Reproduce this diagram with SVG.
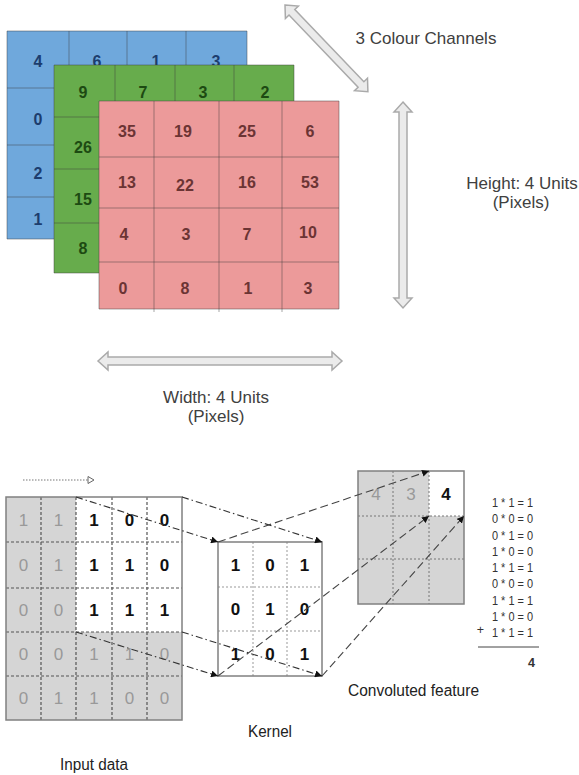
<svg xmlns="http://www.w3.org/2000/svg" width="579" height="775" viewBox="0 0 579 775">
<defs>
<style>
text{font-family:"Liberation Sans",Arial,sans-serif}
.bl{fill:#6fa8dc}
.gr{fill:#67ac4c}
.pk{fill:#ec9a9a}
.gl{stroke:rgba(60,60,60,0.45);stroke-width:1;fill:none}
.tb{font-size:16px;fill:#1c3d6e;text-anchor:middle;font-weight:600}
.tg{font-size:16px;fill:#1d4a12;text-anchor:middle;font-weight:600}
.tp{font-size:16px;fill:#6b3434;text-anchor:middle;font-weight:600}
.lab{font-size:17px;fill:#404040;text-anchor:middle}
.dbl{fill:#ebebeb;stroke:#aaaaaa;stroke-width:1.5}
.gray{fill:#d5d5d5}
.outer{fill:none;stroke:#808080;stroke-width:1.5}
.idash{stroke:#555;stroke-width:1.2;stroke-dasharray:3 2;fill:none}
.idot{stroke:#999;stroke-width:1;stroke-dasharray:2 2;fill:none}
.nb{font-size:17px;font-weight:bold;fill:#111;text-anchor:middle}
.ng{font-size:17px;fill:#999;text-anchor:middle}
.cap{font-size:16px;fill:#222}
.eq{font-size:12.5px;fill:#333;text-anchor:end}
.dd{stroke:#333;stroke-width:1.1;stroke-dasharray:7 3 1.5 3;fill:none}
.da{stroke:#444;stroke-width:1.1;stroke-dasharray:8 4;fill:none}
</style>
<marker id="ah" viewBox="0 0 10 10" refX="10" refY="5" markerWidth="7" markerHeight="7" orient="auto" markerUnits="userSpaceOnUse">
<path d="M0,0 L10,5 L0,10 z" fill="#111"/>
</marker>
</defs>
<rect width="579" height="775" fill="#fff"/>

<g id="blue-channel">
<rect class="bl" x="7" y="31" width="240" height="208"/>
<path class="gl" d="M7,31H247V239H7Z M69,31V239 M127,31V239 M186,31V239 M7,88H247 M7,145H247 M7,197H247"/>
<text class="tb" x="38" y="67">4</text><text class="tb" x="97" y="67">6</text><text class="tb" x="156" y="67">1</text><text class="tb" x="216" y="67">3</text>
<text class="tb" x="38" y="125">0</text>
<text class="tb" x="38" y="179">2</text>
<text class="tb" x="38" y="225">1</text>
</g>

<g id="green-channel">
<rect class="gr" x="54" y="65" width="240" height="208"/>
<path class="gl" d="M54,65H294V273H54Z M115,65V273 M175,65V273 M234,65V273 M54,117H294 M54,169H294 M54,223H294"/>
<text class="tg" x="83" y="98">9</text><text class="tg" x="143" y="98">7</text><text class="tg" x="203" y="98">3</text><text class="tg" x="265" y="98">2</text>
<text class="tg" x="83" y="153">26</text>
<text class="tg" x="83" y="205">15</text>
<text class="tg" x="83" y="254">8</text>
</g>

<g id="red-channel">
<rect class="pk" x="99" y="101" width="240" height="208"/>
<path class="gl" d="M99,101H339V309H99Z M154,101V312 M219,101V312 M282,101V312 M99,157H339 M99,208H339 M99,262H339"/>
<text class="tp" x="127" y="137">35</text><text class="tp" x="183" y="137">19</text><text class="tp" x="247" y="137">25</text><text class="tp" x="310" y="137">6</text>
<text class="tp" x="127" y="188">13</text><text class="tp" x="185" y="191">22</text><text class="tp" x="247" y="188">16</text><text class="tp" x="310" y="188">53</text>
<text class="tp" x="124" y="240">4</text><text class="tp" x="186" y="240">3</text><text class="tp" x="247" y="240">7</text><text class="tp" x="308" y="238">10</text>
<text class="tp" x="123" y="294">0</text><text class="tp" x="185" y="294">8</text><text class="tp" x="248" y="294">1</text><text class="tp" x="308" y="294">3</text>
</g>

<g id="dimension-arrows">
<polygon class="dbl" transform="translate(285,5) rotate(46.3)" points="0,0 10,-9 10,-4 110,-4 110,-9 120,0 110,9 110,4 10,4 10,9"/>
<polygon class="dbl" points="403,102 412,112 407,112 407,298 412,298 403,308 394,298 399,298 399,112 394,112"/>
<polygon class="dbl" points="98,361 108,352 108,357 332,357 332,352 342,361 332,370 332,365 108,365 108,370"/>
</g>

<g id="dimension-labels">
<text class="lab" x="426" y="44">3 Colour Channels</text>
<text class="lab" x="522" y="189">Height: 4 Units</text>
<text class="lab" x="521" y="208">(Pixels)</text>
<text class="lab" x="216" y="403">Width: 4 Units</text>
<text class="lab" x="216" y="422">(Pixels)</text>
</g>

<g id="slide-arrow">
<line x1="23" y1="480" x2="88" y2="480" stroke="#777" stroke-width="1" stroke-dasharray="1.5 1.5"/>
<polygon points="88,476.5 94,480 88,483.5" fill="#fff" stroke="#666" stroke-width="1"/>
</g>

<g id="input-data">
<rect class="gray" x="6" y="497" width="176" height="223"/>
<rect x="76" y="497" width="106" height="135" fill="#fff"/>
<path class="idash" d="M41,497V720 M76,497V720 M112,497V720 M147,497V720 M6,542H182 M6,588H182 M6,632H182 M6,676H182"/>
<rect class="outer" x="6" y="497" width="176" height="223"/>
<text class="ng" x="23.5" y="526">1</text><text class="ng" x="58.5" y="526">1</text><text class="nb" x="94" y="526">1</text><text class="nb" x="129.5" y="526">0</text><text class="nb" x="164.5" y="526">0</text>
<text class="ng" x="23.5" y="571">0</text><text class="ng" x="58.5" y="571">1</text><text class="nb" x="94" y="571">1</text><text class="nb" x="129.5" y="571">1</text><text class="nb" x="164.5" y="571">0</text>
<text class="ng" x="23.5" y="616">0</text><text class="ng" x="58.5" y="616">0</text><text class="nb" x="94" y="616">1</text><text class="nb" x="129.5" y="616">1</text><text class="nb" x="164.5" y="616">1</text>
<text class="ng" x="23.5" y="660">0</text><text class="ng" x="58.5" y="660">0</text><text class="ng" x="94" y="660">1</text><text class="ng" x="129.5" y="660">1</text><text class="ng" x="164.5" y="660">0</text>
<text class="ng" x="23.5" y="704">0</text><text class="ng" x="58.5" y="704">1</text><text class="ng" x="94" y="704">1</text><text class="ng" x="129.5" y="704">0</text><text class="ng" x="164.5" y="704">0</text>
<text class="cap" x="60" y="770" textLength="68" lengthAdjust="spacingAndGlyphs">Input data</text>
</g>

<g id="kernel">
<rect x="218" y="542" width="104" height="134" fill="#fff"/>
<path class="idot" d="M253,542V676 M287,542V676 M218,587H322 M218,631H322"/>
<rect class="outer" x="218" y="542" width="104" height="134"/>
<text class="nb" x="235.5" y="571">1</text><text class="nb" x="270" y="571">0</text><text class="nb" x="304.5" y="571">1</text>
<text class="nb" x="235.5" y="615">0</text><text class="nb" x="270" y="615">1</text><text class="nb" x="304.5" y="615">0</text>
<text class="nb" x="235.5" y="660">1</text><text class="nb" x="270" y="660">0</text><text class="nb" x="304.5" y="660">1</text>
<text class="cap" x="248" y="737" textLength="44" lengthAdjust="spacingAndGlyphs">Kernel</text>
</g>

<g id="convoluted-feature">
<rect class="gray" x="358" y="471" width="106" height="133"/>
<rect x="429" y="471" width="35" height="45" fill="#fff"/>
<path class="idot" style="stroke:#777" d="M393,471V604 M429,471V604 M358,516H464 M358,559H464"/>
<rect class="outer" x="358" y="471" width="106" height="133"/>
<text class="ng" x="376" y="500">4</text><text class="ng" x="411" y="500">3</text><text class="nb" x="446" y="500">4</text>
<text class="cap" x="348" y="696" textLength="131" lengthAdjust="spacingAndGlyphs">Convoluted feature</text>
</g>

<g id="calculation">
<text class="eq" x="533" y="507" textLength="41" lengthAdjust="spacingAndGlyphs">1 * 1 = 1</text>
<text class="eq" x="533" y="523" textLength="41" lengthAdjust="spacingAndGlyphs">0 * 0 = 0</text>
<text class="eq" x="533" y="540" textLength="41" lengthAdjust="spacingAndGlyphs">0 * 1 = 0</text>
<text class="eq" x="533" y="556" textLength="41" lengthAdjust="spacingAndGlyphs">1 * 0 = 0</text>
<text class="eq" x="533" y="572" textLength="41" lengthAdjust="spacingAndGlyphs">1 * 1 = 1</text>
<text class="eq" x="533" y="588" textLength="41" lengthAdjust="spacingAndGlyphs">0 * 0 = 0</text>
<text class="eq" x="533" y="605" textLength="41" lengthAdjust="spacingAndGlyphs">1 * 1 = 1</text>
<text class="eq" x="533" y="621" textLength="41" lengthAdjust="spacingAndGlyphs">1 * 0 = 0</text>
<text class="eq" x="533" y="637" textLength="41" lengthAdjust="spacingAndGlyphs">1 * 1 = 1</text>
<text class="eq" x="484" y="634">+</text>
<line x1="478" y1="647" x2="539" y2="647" stroke="#444" stroke-width="1"/>
<text class="eq" x="535" y="667" style="font-weight:bold">4</text>
</g>

<g id="connectors">
<line class="dd" x1="76" y1="497" x2="218" y2="542" marker-end="url(#ah)"/>
<line class="dd" x1="182" y1="497" x2="322" y2="542" marker-end="url(#ah)"/>
<line class="dd" x1="76" y1="632" x2="218" y2="676" marker-end="url(#ah)"/>
<line class="dd" x1="182" y1="632" x2="322" y2="676" marker-end="url(#ah)"/>
<line class="da" x1="218" y1="542" x2="429" y2="471" marker-end="url(#ah)"/>
<line class="da" x1="218" y1="676" x2="429" y2="516" marker-end="url(#ah)"/>
<line class="da" x1="322" y1="676" x2="464" y2="516" marker-end="url(#ah)"/>
</g>
</svg>
